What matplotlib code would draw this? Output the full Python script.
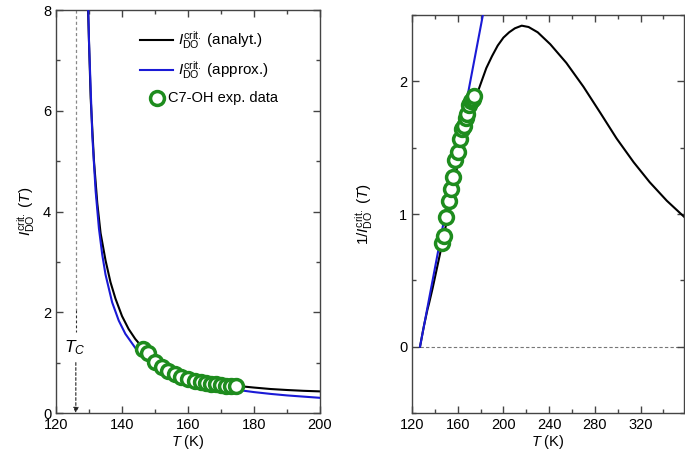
import numpy as np
import matplotlib.pyplot as plt
from matplotlib.ticker import MultipleLocator

plt.rcParams['font.family'] = ['Liberation Sans', 'DejaVu Sans']
plt.rcParams['mathtext.fontset'] = 'custom'
plt.rcParams['mathtext.rm'] = 'Liberation Sans'
plt.rcParams['mathtext.it'] = 'Liberation Sans:italic'
plt.rcParams['font.size'] = 10.5

# analytical curve, read as 1/I(T) from the right panel
T_an = [127.0, 129.7, 130.5, 131.5, 132.5, 133.5, 135.0, 136.5, 138.0, 140.0,
        142.0, 144.0, 146.0, 148.0, 150.0, 153.0, 156.0, 160.0, 163.0, 166.0,
        170.0, 175.0, 180.0, 185.0, 190.0, 195.0, 200.0, 205.0, 210.0, 216.0,
        222.0, 230.0, 241.0, 255.0, 270.0, 285.0, 299.0, 314.0, 328.0, 343.0, 358.0]
inv_an = [0.0, 0.125, 0.16, 0.2, 0.24, 0.28, 0.33, 0.385, 0.44, 0.52,
          0.60, 0.68, 0.76, 0.845, 0.93, 1.05, 1.18, 1.38, 1.50, 1.61,
          1.74, 1.86, 1.98, 2.10, 2.19, 2.27, 2.33, 2.37, 2.40, 2.42,
          2.41, 2.37, 2.28, 2.14, 1.96, 1.76, 1.57, 1.39, 1.24, 1.10, 0.98]

# approximate curve (straight line in 1/I)
T_ap = [127.0, 129.5, 130.0, 131.0, 132.0, 133.0, 134.0, 135.0, 137.0, 139.0,
        141.0, 144.0, 147.0, 150.0, 155.0, 160.0, 165.0, 170.0, 175.0, 180.0,
        185.0, 190.0, 200.0]
inv_ap = [0.0, 0.114, 0.136, 0.182, 0.227, 0.273, 0.318, 0.364, 0.455, 0.545,
          0.636, 0.773, 0.909, 1.045, 1.273, 1.50, 1.727, 1.955, 2.182, 2.409,
          2.636, 2.864, 3.318]

# C7-OH experimental data
T_exp = [146.3, 147.8, 150.0, 152.0, 154.0, 156.0, 158.0, 160.0, 162.0,
         164.0, 165.5, 167.0, 168.5, 170.0, 171.5, 173.0, 174.5]
I_exp = [1.28, 1.20, 1.02, 0.91, 0.84, 0.78, 0.71, 0.68, 0.64,
         0.61, 0.60, 0.58, 0.57, 0.55, 0.54, 0.535, 0.53]

T_c = 126.0

T_an = np.array(T_an)
inv_an = np.array(inv_an)
T_ap = np.array(T_ap)
inv_ap = np.array(inv_ap)
T_exp = np.array(T_exp)
I_exp = np.array(I_exp)

green = '#1e8c1e'
blue = '#1a1ad6'
spine_col = '#444444'

fig = plt.figure(figsize=(6.85, 4.59), dpi=100)
ax1 = fig.add_axes([0.0818, 0.1002, 0.3854, 0.878])
ax2 = fig.add_axes([0.6015, 0.1002, 0.3970, 0.867])

sym = r'$I^{\mathrm{crit.}}_{\mathrm{DO}}$'
ylab = sym + r' $(T)$'

# left panel
m = T_an <= 201
ax1.plot(T_an[m][1:], 1 / inv_an[m][1:], color='black', lw=1.5, zorder=2)
ax1.plot(T_ap[1:], 1 / inv_ap[1:], color=blue, lw=1.5, zorder=3)
ax1.plot(T_exp, I_exp, 'o', ms=10, mfc='white', mec=green, mew=2.5, zorder=4)
ax1.plot([T_c, T_c], [8, 2.05], ls=(0, (2.5, 2)), color='#888888', lw=0.9)
ax1.annotate('', xy=(T_c, 0.0), xytext=(T_c, 1.0),
             arrowprops=dict(arrowstyle='-|>', color='#222222', lw=0.8,
                             ls=(0, (2.5, 2)), mutation_scale=8,
                             shrinkA=0, shrinkB=0))
ax1.plot([T_c, T_c], [2.05, 1.6], ls=(0, (2.5, 2)), color='#333333', lw=0.8)
ax1.text(T_c - 0.4, 1.3, r'$T_C$', ha='center', va='center', fontsize=12.5)

# legend drawn by hand (circle entry sits left of the line entries)
tr = ax1.transAxes
ax1.plot([0.318, 0.443], [0.926, 0.926], color='black', lw=1.5, transform=tr)
ax1.text(0.462, 0.926, sym + ' (analyt.)', transform=tr, va='center', fontsize=11)
ax1.plot([0.318, 0.443], [0.851, 0.851], color=blue, lw=1.5, transform=tr)
ax1.text(0.462, 0.851, sym + ' (approx.)', transform=tr, va='center', fontsize=11)
ax1.plot([0.383], [0.782], 'o', ms=10, mfc='white', mec=green, mew=2.5, transform=tr)
ax1.text(0.425, 0.782, 'C7-OH exp. data', transform=tr, va='center', fontsize=10.5)

ax1.set_xlim(120, 200)
ax1.set_ylim(0, 8)
ax1.xaxis.set_major_locator(MultipleLocator(20))
ax1.xaxis.set_minor_locator(MultipleLocator(10))
ax1.yaxis.set_major_locator(MultipleLocator(2))
ax1.yaxis.set_minor_locator(MultipleLocator(1))
ax1.set_xlabel(r'$T$ (K)', labelpad=1)
ax1.set_ylabel(ylab, labelpad=4, fontsize=11)

# right panel
ax2.axhline(0, xmin=(127 - 120) / 238, xmax=1, ls=(0, (3, 2)), color='#777777',
            lw=0.8, zorder=1)
ax2.plot(T_an, inv_an, color='black', lw=1.5, zorder=2)
ax2.plot(T_ap, inv_ap, color=blue, lw=1.5, zorder=3)
ax2.plot(T_exp, 1 / I_exp, 'o', ms=10, mfc='white', mec=green, mew=2.5, zorder=4)

ax2.set_xlim(120, 358)
ax2.set_ylim(-0.5, 2.5)
ax2.xaxis.set_major_locator(MultipleLocator(40))
ax2.xaxis.set_minor_locator(MultipleLocator(20))
ax2.yaxis.set_major_locator(MultipleLocator(1))
ax2.yaxis.set_minor_locator(MultipleLocator(0.5))
ax2.set_xlabel(r'$T$ (K)', labelpad=1)
ax2.set_ylabel('1/' + ylab, labelpad=17, fontsize=11)

for ax in (ax1, ax2):
    ax.tick_params(which='both', direction='in', top=True, right=True,
                   colors=spine_col, labelcolor='black', labelsize=10.5)
    ax.tick_params(which='major', length=5, width=1)
    ax.tick_params(which='minor', length=3, width=1)
    for s in ax.spines.values():
        s.set_color(spine_col)
        s.set_linewidth(1.0)

fig.savefig('out.png', dpi=100)
